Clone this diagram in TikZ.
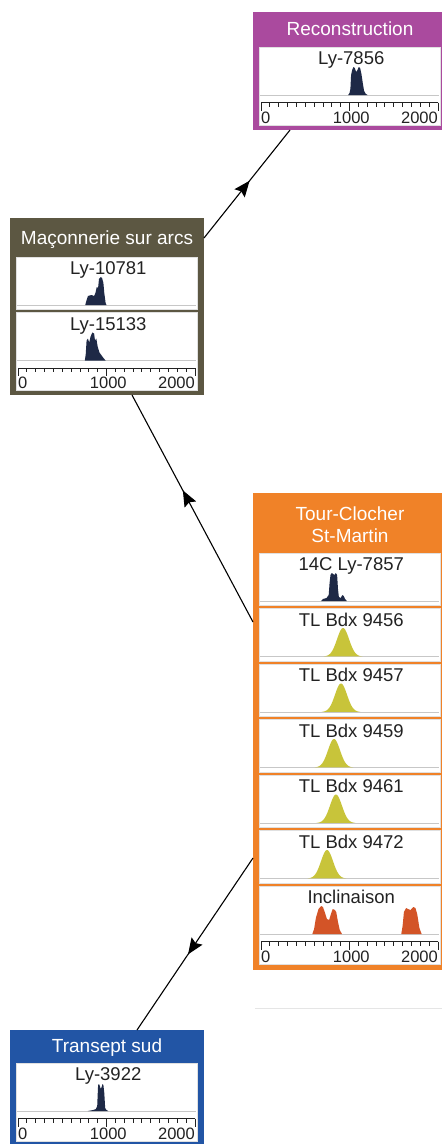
\documentclass[tikz,border=0pt]{standalone}
\usepackage{fontspec}
\setmainfont{Liberation Sans}
\usetikzlibrary{arrows.meta,positioning,decorations.markings}
\definecolor{recol}{RGB}{170,74,158}
\definecolor{macol}{RGB}{92,87,66}
\definecolor{tourcol}{RGB}{240,130,40}
\definecolor{tracol}{RGB}{34,85,165}
\definecolor{c14col}{RGB}{30,41,70}
\definecolor{tlcol}{RGB}{200,196,58}
\definecolor{inccol}{RGB}{211,84,39}
\definecolor{inkcol}{RGB}{34,34,34}

\begin{document}
\begin{tikzpicture}[
    x=1pt, y=1pt,
    node distance=3pt,
    grp/.style={rectangle, inner sep=0pt, outer sep=0pt, minimum width=194pt, anchor=north west},
    ttl/.style={text=white, inner sep=0pt, font=\fontsize{19}{22}\selectfont, align=center},
    panel/.style={rectangle, draw=black!12, fill=white, inner sep=0pt, outer sep=0pt, minimum width=181pt, minimum height=52.5pt},
    axpanel/.style={panel, minimum height=78pt},
    lbl/.style={text=inkcol, inner sep=0pt, anchor=base, font=\fontsize{18.5}{20}\selectfont},
    ticklbl/.style={text=inkcol, inner sep=0pt, font=\fontsize{16.5}{18}\selectfont},
    inpanel/.style={shift={(#1.north west)}, xshift=1.5pt, yshift=-48pt, x=0.0885pt},
    baseln/.style={draw=black!22, line width=0.8pt},
    axisln/.style={draw=inkcol, line width=1pt},
    link/.style={line width=1.1pt, postaction={decorate}, decoration={markings, mark=at position #1 with {\arrow{Stealth[length=16pt,width=13pt,inset=2.5pt]}}}},
    link/.default=0.5
]
\path[use as bounding box, fill=white] (0,0) rectangle (442,-1144);
\clip (0,0) rectangle (442,-1144);

\node[grp, fill=recol, minimum height=118pt] (rec) at (253,-12) {};
\node[ttl, anchor=base] (rec-t) at ([yshift=-23pt]rec.north) {Reconstruction};
\node[axpanel, below=35pt of rec.north] (rec-1) {};

\node[grp, fill=macol, minimum height=177pt] (mac) at (10,-218) {};
\node[ttl, anchor=base] (mac-t) at ([yshift=-26pt]mac.north) {Maçonnerie sur arcs};
\node[panel, below=39pt of mac.north] (mac-1) {};
\node[axpanel, below=of mac-1] (mac-2) {};

\node[grp, fill=tourcol, minimum height=477pt] (tour) at (253,-493) {};
\node[ttl, anchor=base] (tour-t) at ([yshift=-49pt]tour.north) {Tour-Clocher\\St-Martin};
\node[panel, below=60pt of tour.north] (tour-1) {};
\node[panel, below=of tour-1] (tour-2) {};
\node[panel, below=of tour-2] (tour-3) {};
\node[panel, below=of tour-3] (tour-4) {};
\node[panel, below=of tour-4] (tour-5) {};
\node[panel, below=of tour-5] (tour-6) {};
\node[axpanel, below=of tour-6] (tour-7) {};
\draw[black!10] ([xshift=2pt,yshift=-38pt]tour.south west) -- ([yshift=-38pt]tour.south east);

\node[grp, fill=tracol, minimum height=116pt] (tra) at (10,-1030) {};
\node[ttl, anchor=base] (tra-t) at ([yshift=-22pt]tra.north) {Transept sud};
\node[axpanel, below=33pt of tra.north] (tra-1) {};

\foreach \p/\txt in {rec-1/Ly-7856, mac-1/Ly-10781, mac-2/Ly-15133, tour-1/14C Ly-7857,
    tour-2/TL Bdx 9456, tour-3/TL Bdx 9457, tour-4/TL Bdx 9459, tour-5/TL Bdx 9461,
    tour-6/TL Bdx 9472, tour-7/Inclinaison, tra-1/Ly-3922} {
  \begin{scope}[inpanel=\p]
    \draw[baseln] (-12,0) -- (2012,0);
    \node[lbl] (\p-l) at (1020,30.5) {\txt};
  \end{scope}
}

\foreach \p in {rec-1, mac-2, tour-7, tra-1} {
  \begin{scope}[inpanel=\p]
    \draw[axisln] (0,-7.5) -- (2000,-7.5);
    \foreach \t in {0,100,...,2000}
      \draw[axisln, line width=0.9pt] (\t,-7.5) -- ++(0,-4);
    \foreach \t in {0,1000,2000}
      \draw[axisln, line width=0.9pt] (\t,-7.5) -- ++(0,-8);
    \node[ticklbl, anchor=base west] (\p-a0) at (0,-28) {0};
    \node[ticklbl, anchor=base] (\p-a1) at (1020,-28) {1000};
    \node[ticklbl, anchor=base east] (\p-a2) at (2000,-28) {2000};
  \end{scope}
}

\begin{scope}[inpanel=rec-1]
  \fill[c14col] plot coordinates {(985,0) (1000,2) (1010,6) (1018,20) (1030,25) (1045,28) (1060,27)
    (1075,23) (1090,25) (1105,28) (1120,27) (1135,21) (1150,12) (1165,4) (1185,1) (1205,0)} -- cycle;
\end{scope}
\begin{scope}[inpanel=mac-1]
  \fill[c14col] plot coordinates {(760,0) (775,5) (790,9) (830,10) (860,9) (875,12) (890,18) (905,17)
    (915,26) (935,28) (950,27) (965,22) (975,12) (990,2) (1000,0)} -- cycle;
\end{scope}
\begin{scope}[inpanel=mac-2]
  \fill[c14col] plot coordinates {(755,0) (765,6) (775,20) (790,22) (805,18) (820,24) (840,28) (860,27)
    (870,20) (885,22) (900,14) (920,8) (945,5) (970,2) (990,0)} -- cycle;
\end{scope}
\begin{scope}[inpanel=tour-1]
  \fill[c14col] plot coordinates {(680,0) (700,2) (740,3) (765,6) (775,18) (785,26) (800,28) (815,27)
    (830,26) (845,28) (860,26) (870,12) (880,4) (900,3) (920,6) (935,5) (950,2) (970,0)} -- cycle;
\end{scope}
\begin{scope}[inpanel=tra-1]
  \fill[c14col] plot coordinates {(790,0) (850,1) (880,2) (895,5) (905,26) (915,27) (925,25) (935,22)
    (945,24) (955,27) (965,26) (975,18) (985,3) (1000,1) (1020,0)} -- cycle;
\end{scope}
\foreach \p/\c in {tour-2/927, tour-3/904, tour-4/825, tour-5/847, tour-6/746} {
  \begin{scope}[inpanel=\p]
    \fill[tlcol] plot[domain=-220:220, samples=61] ({\c+\x},{28.5*exp(-0.5*(\x/68)*(\x/68))}) -- cycle;
  \end{scope}
}
\begin{scope}[inpanel=tour-7]
  \fill[inccol] plot coordinates {(580,0) (600,5) (620,16) (650,25) (680,28) (700,27) (720,22) (745,15)
    (770,14) (790,20) (810,25) (835,24) (850,22) (870,12) (890,4) (915,0)} -- cycle;
  \fill[inccol] plot coordinates {(1585,0) (1600,8) (1615,22) (1640,26) (1660,25) (1690,24) (1720,27)
    (1745,26) (1765,20) (1790,6) (1815,0)} -- cycle;
\end{scope}

\draw[link=0.53] ([yshift=-20pt]mac.north east) -- ([xshift=37pt]rec.south west);
\draw[link=0.58] ([yshift=-129pt]tour.north west) -- ([xshift=122pt]mac.south west);
\draw[link=0.56] ([yshift=-365pt]tour.north west) -- ([xshift=127pt]tra.north west);
\end{tikzpicture}
\end{document}
